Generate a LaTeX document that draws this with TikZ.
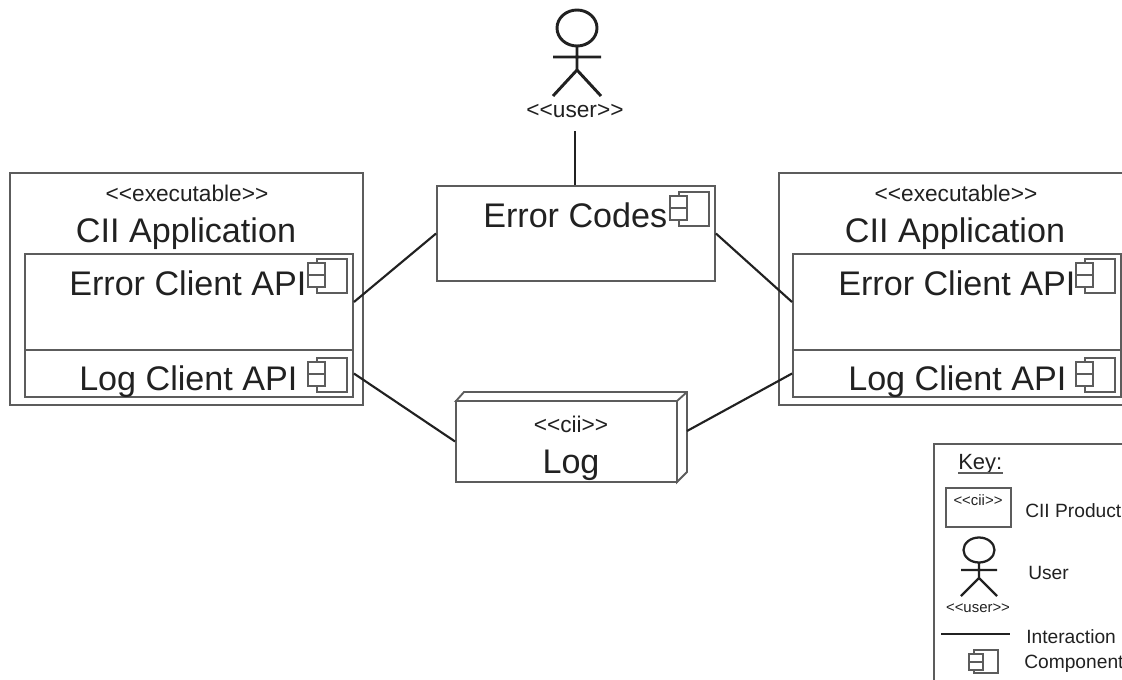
\documentclass[tikz,border=0pt]{standalone}
\usepackage{fontspec}
\setmainfont{Liberation Sans}
\usetikzlibrary{fit}
\definecolor{ln}{gray}{0.36}
\definecolor{tx}{gray}{0.13}
\tikzset{
  x=0.75pt,y=-0.75pt,
  boxn/.style={draw=ln,line width=1.4pt,fill=white,inner sep=0pt,fit={#1}},
  wire/.style={draw=tx,line width=1.6pt},
  thinl/.style={draw=ln,line width=0.9pt},
  lbl/.style={inner sep=0pt,text=tx},
  bigt/.style={lbl,font=\fontsize{25.6pt}{28pt}\selectfont},
  midt/.style={lbl,font=\fontsize{17pt}{20pt}\selectfont},
  keyt/.style={lbl,font=\fontsize{14.4pt}{16pt}\selectfont},
  keys/.style={lbl,font=\fontsize{11.2pt}{13pt}\selectfont},
  compicon/.pic={
    \draw[thinl,fill=white] (0,0) rectangle (30,34);
    \draw[thinl,fill=white] (-9,4) rectangle (8,16);
    \draw[thinl,fill=white] (-9,16) rectangle (8,28);
  },
  compsmall/.pic={
    \draw[thinl,fill=white] (0,0) rectangle (24,23);
    \draw[thinl,fill=white] (-5,4) rectangle (9,12);
    \draw[thinl,fill=white] (-5,12) rectangle (9,20);
  },
  actorbig/.pic={
    \draw[wire,line width=2.2pt] (0,0) ellipse [x radius=20,y radius=18];
    \draw[wire,line width=2.2pt] (0,18) -- (0,42) (-24,29) -- (24,29) (-24,68) -- (0,42) -- (24,68);
  },
  actorsmall/.pic={
    \draw[wire,line width=1.7pt] (0,0) ellipse [x radius=15.5,y radius=12.5];
    \draw[wire,line width=1.7pt] (0,12.5) -- (0,28) (-18,20) -- (18,20) (-18,46) -- (0,28) -- (18,46);
  }
}
\begin{document}
\begin{tikzpicture}
\useasboundingbox (0,0) rectangle (1122,679);
\clip (0,0) rectangle (1122,679);
% left application
\node[boxn={(10,173)(363,405)}] (appL) {};
\node[boxn={(25,254)(353,350)}] (errL) {};
\node[boxn={(25,350)(353,397)}] (logL) {};
\node[midt,anchor=base] (execL) at (187,201) {<{}<executable>{}>};
\node[bigt,anchor=base] (nameL) at (186,242) {CII Application};
\node[bigt,anchor=base west] (errtL) at (69,295) {Error Client API};
\node[bigt,anchor=base west] (logtL) at (79,390) {Log Client API};
\pic at (317,259) {compicon};
\pic at (317,358) {compicon};
% right application
\node[boxn={(779,173)(1135,405)}] (appR) {};
\node[boxn={(793,254)(1121,350)}] (errR) {};
\node[boxn={(793,350)(1121,397)}] (logR) {};
\node[midt,anchor=base] (execR) at (956,201) {<{}<executable>{}>};
\node[bigt,anchor=base] (nameR) at (955,242) {CII Application};
\node[bigt,anchor=base west] (errtR) at (838,295) {Error Client API};
\node[bigt,anchor=base west] (logtR) at (848,390) {Log Client API};
\pic at (1085,259) {compicon};
\pic at (1085,358) {compicon};
% error codes
\node[boxn={(437,186)(715,281)}] (codes) {};
\node[bigt,anchor=base west] (codest) at (483,227) {Error Codes};
\pic at (679,192) {compicon};
% log
\draw[ln,line width=1.4pt,fill=white] (456,401) -- (464,392) -- (687,392) -- (687,472) -- (677,482) -- (677,401) -- cycle;
\draw[ln,line width=1.4pt] (677,401) -- (687,392);
\node[boxn={(456,401)(677,482)}] (logn) {};
\coordinate (logside) at (687,431);
\node[midt,anchor=base] (ciit) at (571,432) {<{}<cii>{}>};
\node[bigt,anchor=base] (logt) at (571,473) {Log};
% actor
\pic at (577,28) {actorbig};
\node[midt,anchor=base] (usert) at (575,117) {<{}<user>{}>};
\coordinate (userfoot) at (575,131);
% connectors
\draw[wire] (userfoot) -- (userfoot |- codes.north);
\draw[wire] (errL.east) -- (codes.west);
\draw[wire] (codes.east) -- (errR.west);
\draw[wire] (logL.east) -- (logn.west);
\draw[wire] (logside) -- (logR.west);
% key
\draw[ln,line width=1.4pt] (1135,444) -- (934,444) -- (934,690);
\node[lbl,font=\fontsize{16.5pt}{19pt}\selectfont,anchor=base west] (keyt) at (958,469) {Key:};
\draw[ln,line width=1pt] (958,473) -- (1003,473);
\node[draw=ln,line width=1pt,inner sep=0pt,fit={(946,488)(1011,527)}] (keybox) {};
\node[keys,anchor=base] (keycii) at (978,505) {<{}<cii>{}>};
\node[keyt,anchor=base west] (keyprod) at (1025,517) {CII Product};
\pic at (979,550) {actorsmall};
\node[keys,anchor=base] (keyuser) at (978,612) {<{}<user>{}>};
\node[keyt,anchor=base west] (keyusr) at (1028,579) {User};
\coordinate (keyl) at (941,634);
\coordinate (keyr) at (1010,634);
\draw[wire] (keyl) -- (keyr);
\node[keyt,anchor=base west] (keyint) at (1026,643) {Interaction};
\pic at (974,650) {compsmall};
\node[keyt,anchor=base west] (keycomp) at (1024,668) {Component};
\end{tikzpicture}
\end{document}
